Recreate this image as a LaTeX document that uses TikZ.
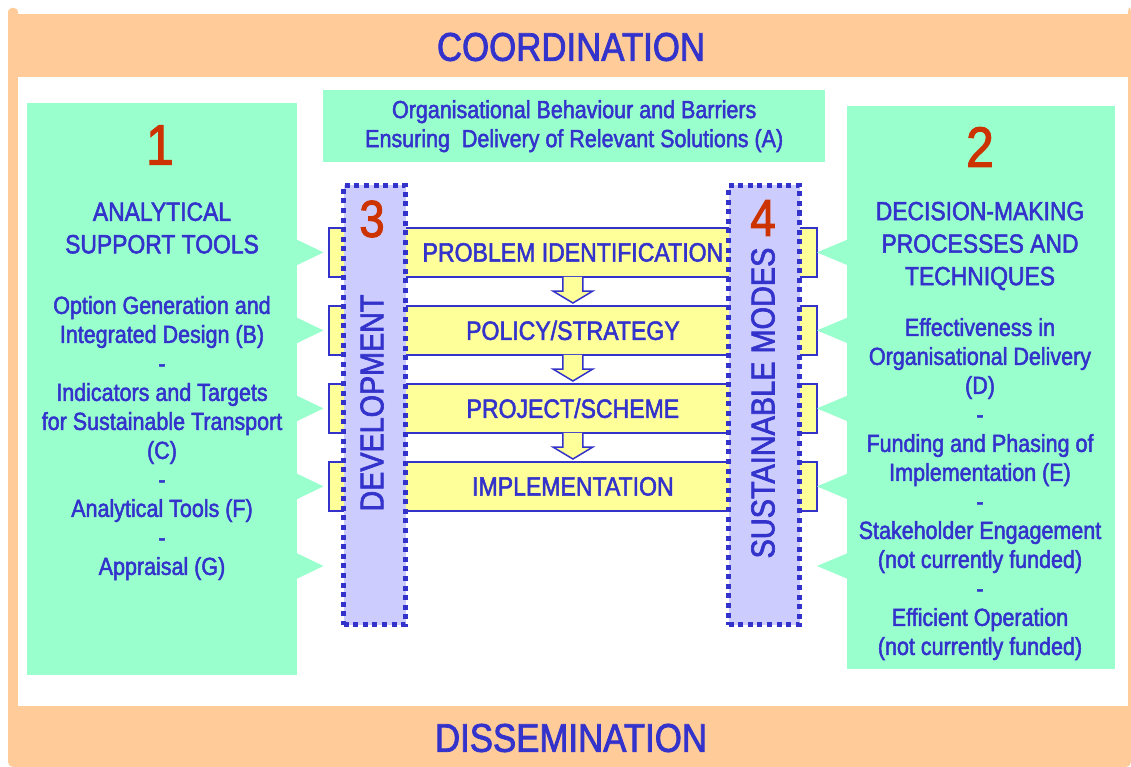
\documentclass[tikz,border=0pt]{standalone}
\usepackage{fontspec}
\setmainfont{Liberation Sans}[FakeStretch=0.87,FakeBold=2]
\usetikzlibrary{calc}
\definecolor{tblue}{HTML}{3333CC}
\definecolor{tred}{HTML}{CC3300}
\definecolor{mint}{HTML}{99FFCC}
\definecolor{peach}{HTML}{FFCC99}
\definecolor{ylw}{HTML}{FFFF99}
\definecolor{lav}{HTML}{CCCCFF}
\begin{document}
\begin{tikzpicture}[x=1pt,y=-1pt,
  txt/.style={text=tblue, align=center, inner sep=0pt},
  bodytxt/.style={txt, font=\fontsize{24.7}{29}\selectfont},
  headtxt/.style={txt, font=\fontsize{26.3}{32.5}\selectfont},
  titletxt/.style={txt, font=\fontsize{40}{44}\selectfont},
  mintbox/.style={fill=mint, draw=none, inner sep=0pt, anchor=north west},
  stagebox/.style={fill=ylw, draw=tblue, line width=1.8pt, minimum width=488pt, minimum height=49pt, inner sep=0pt, anchor=north west, text=tblue, font=\fontsize{26.5}{30}\selectfont},
  column/.style={fill=lav, draw=tblue, line width=5pt, dash pattern=on 5pt off 4.6pt, minimum width=62pt, minimum height=439pt, anchor=north west, inner sep=0pt},
  numlabel/.style={text=tred, inner sep=0pt},
  pointer/.style={fill=mint, draw=none},
  downarrow/.style={fill=ylw, draw=tblue, line width=1.5pt, line join=miter},
  coltxt/.style={txt, rotate=90}
]
\useasboundingbox (0,0) rectangle (1131,767);
% frame
\fill[peach, rounded corners=5pt] (8,9) rectangle (1131,767);
\fill[white] (0,0) rectangle (1131,14);
\fill[peach, rounded corners=4pt] (8,8) rectangle (18,30);
\fill[peach, rounded corners=3pt] (1128,8) rectangle (1131,30);
\fill[white] (18,77) rectangle (1128,706);
\node[titletxt] (coord) at (571,47) {COORDINATION};
\node[titletxt] (dissem) at (571,738) {DISSEMINATION};

% mint boxes
\node[mintbox, minimum width=270pt, minimum height=572pt] (m1) at (27,103) {};
\node[mintbox, minimum width=268pt, minimum height=563pt] (m2) at (847,106) {};
\node[mintbox, minimum width=502pt, minimum height=72pt, bodytxt] (mtop) at (323,90)
  {Organisational Behaviour and Barriers\\Ensuring\ \ Delivery of Relevant Solutions (A)};

% stage boxes
\node[stagebox] (r1) at (328,227) {PROBLEM IDENTIFICATION};
\node[stagebox] (r2) at (328,305) {POLICY/STRATEGY};
\node[stagebox] (r3) at (328,383) {PROJECT/SCHEME};
\node[stagebox] (r4) at (328,461) {IMPLEMENTATION};
\coordinate (r5) at (572,566);

% pointers
\foreach \r in {r1,r2,r3,r4,r5}{
  \fill[pointer] ($(m1.east |- \r)+(-1,-13)$) -- ($(m1.east |- \r)+(26,0)$) -- ($(m1.east |- \r)+(-1,13)$) -- cycle;
  \fill[pointer] ($(m2.west |- \r)+(1,-13)$) -- ($(m2.west |- \r)+(-30,0)$) -- ($(m2.west |- \r)+(1,13)$) -- cycle;
}

% down arrows
\foreach \a/\b in {r1/r2,r2/r3,r3/r4}{
  \draw[downarrow] ($(\a.south)+(-10,-1)$) -- ($(\b.north)+(-10,-14)$) -- ($(\b.north)+(-20,-14)$)
     -- ($(\b.north)+(0,-2)$) -- ($(\b.north)+(20,-14)$) -- ($(\b.north)+(10,-14)$) -- ($(\a.south)+(10,-1)$);
}

% columns
\node[column] (c3) at (341,183) {};
\node[column, minimum width=71pt] (c4) at (726,183) {};
\node[coltxt, font=\fontsize{33}{36}\selectfont] (devt) at (372,403) {DEVELOPMENT};
\node[coltxt, font=\fontsize{33.2}{36}\selectfont] (sust) at (763,403) {SUSTAINABLE MODES};
\node[numlabel, font=\fontsize{52}{56}\selectfont] (n3) at (372,219) {3};
\node[numlabel, font=\fontsize{52}{56}\selectfont] (n4) at (763,218) {4};

% left texts
\node[numlabel, font=\fontsize{57}{60}\selectfont] (n1) at (160,145) {1};
\node[headtxt] (h1) at (162,228) {ANALYTICAL\\SUPPORT TOOLS};
\node[bodytxt] (b1) at (162,438) {Option Generation and\\Integrated Design (B)\\-\\Indicators and Targets\\for Sustainable Transport\\(C)\\-\\Analytical Tools (F)\\-\\Appraisal (G)};

% right texts
\node[numlabel, font=\fontsize{57}{60}\selectfont] (n2) at (980,147) {2};
\node[headtxt] (h2) at (980,246) {DECISION-MAKING\\PROCESSES AND\\TECHNIQUES};
\node[bodytxt] (b2) at (980,489) {Effectiveness in\\Organisational Delivery\\(D)\\-\\Funding and Phasing of\\Implementation (E)\\-\\Stakeholder Engagement\\(not currently funded)\\-\\Efficient Operation\\(not currently funded)};
\end{tikzpicture}
\end{document}
